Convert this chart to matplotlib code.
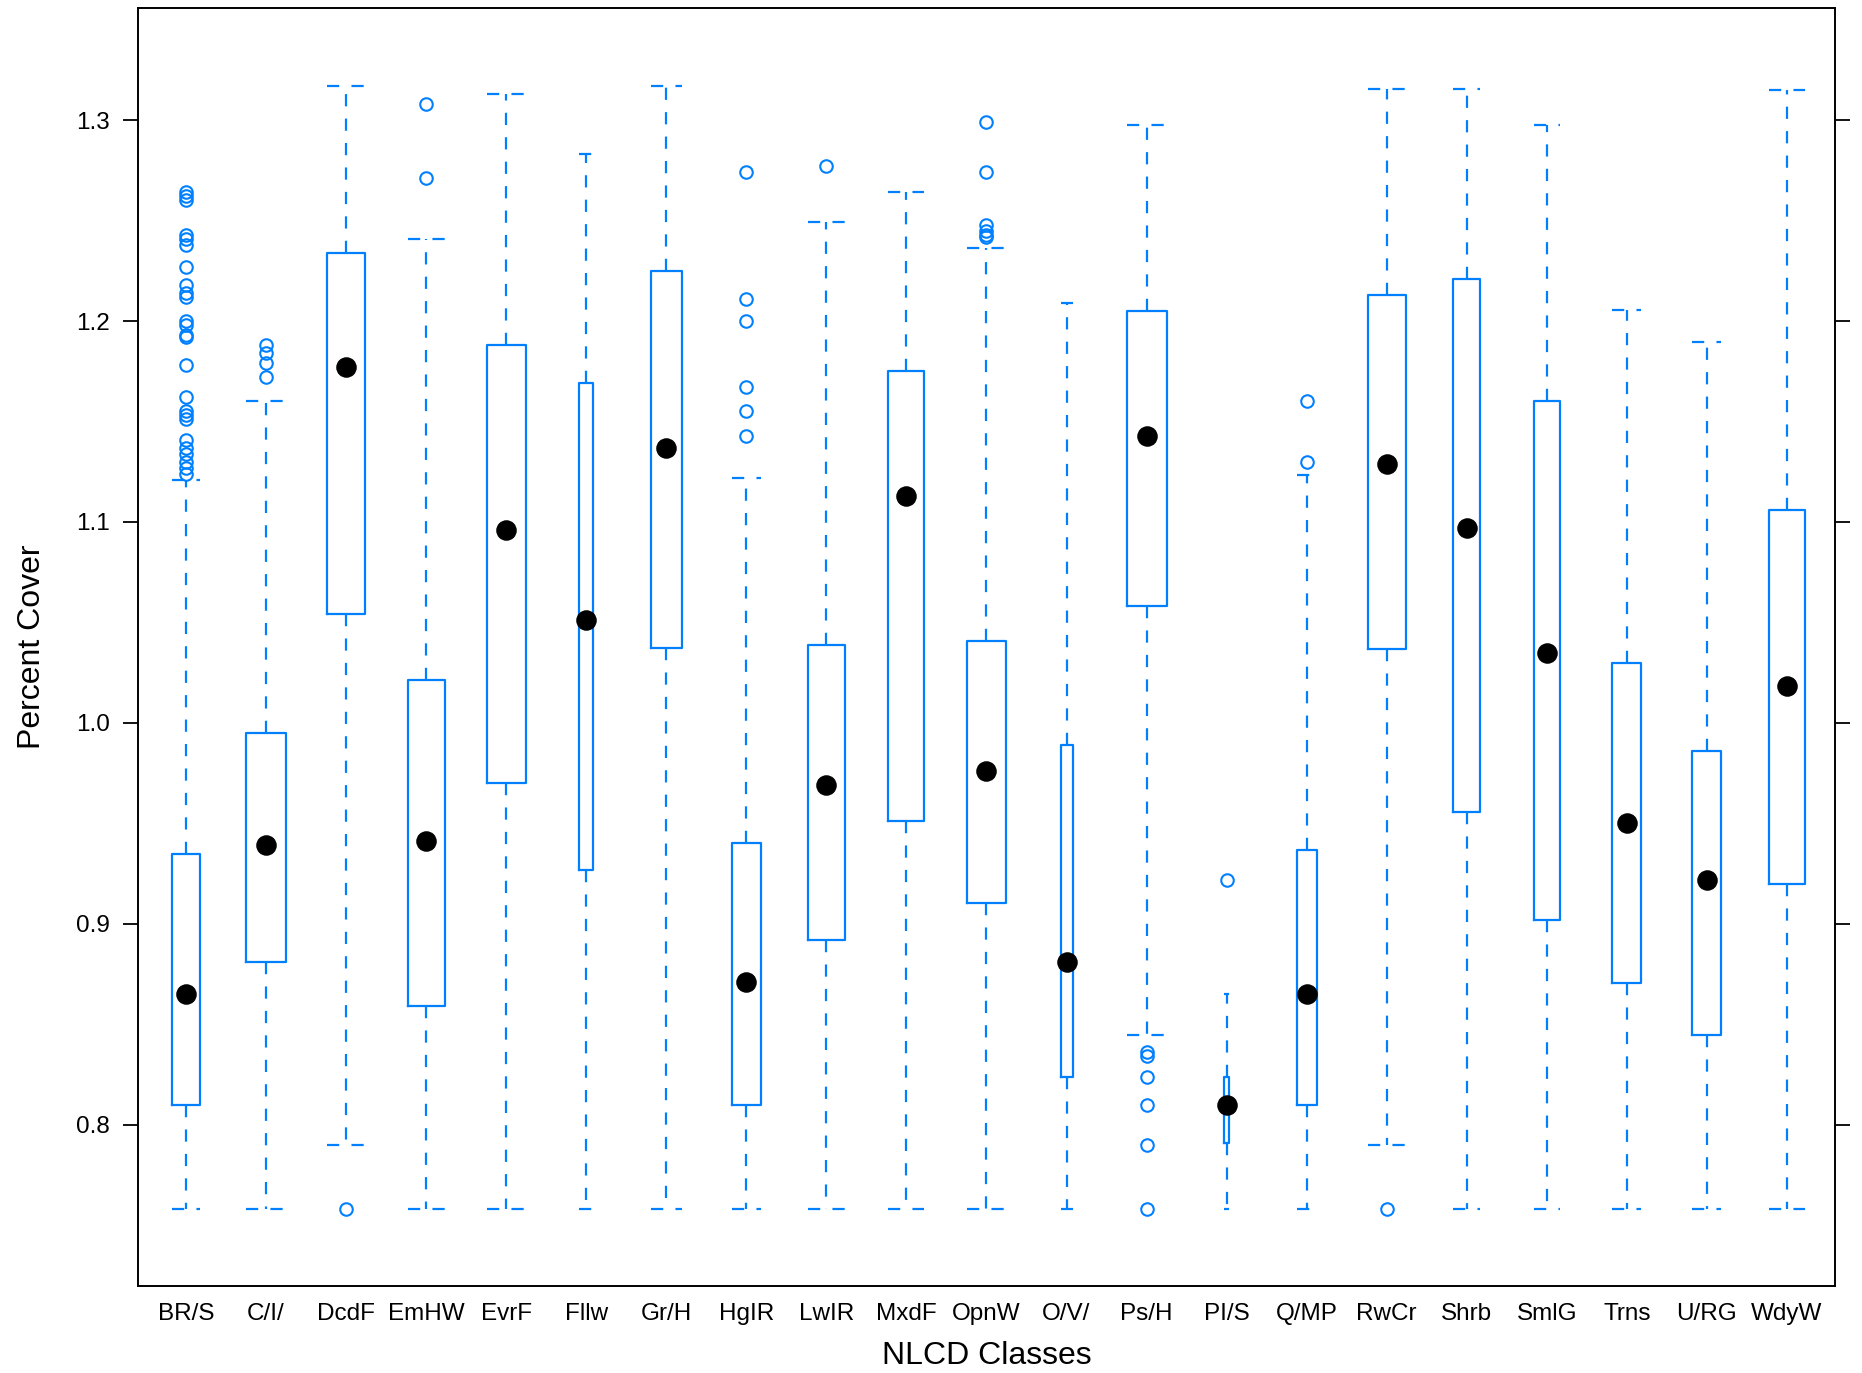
import matplotlib.pyplot as plt
import numpy as np

plt.rcParams['font.family'] = ['Liberation Sans', 'DejaVu Sans']

# NLCD classes and box statistics
classes = ['BR/S', 'C/I/', 'DcdF', 'EmHW', 'EvrF', 'Fllw', 'Gr/H', 'HgIR', 'LwIR',
           'MxdF', 'OpnW', 'O/V/', 'Ps/H', 'PI/S', 'Q/MP', 'RwCr', 'Shrb', 'SmlG',
           'Trns', 'U/RG', 'WdyW']
whis_lo = [0.758, 0.758, 0.790, 0.758, 0.758, 0.758, 0.758, 0.758, 0.758, 0.758, 0.758,
           0.758, 0.8445, 0.758, 0.758, 0.790, 0.758, 0.758, 0.758, 0.758, 0.758]
q1 = [0.810, 0.881, 1.054, 0.859, 0.970, 0.927, 1.0375, 0.810, 0.892, 0.951, 0.9105,
      0.824, 1.058, 0.791, 0.810, 1.037, 0.9556, 0.902, 0.8707, 0.8445, 0.920]
med = [0.865, 0.939, 1.177, 0.941, 1.096, 1.051, 1.137, 0.871, 0.969, 1.113, 0.976,
       0.881, 1.143, 0.810, 0.865, 1.129, 1.097, 1.0346, 0.950, 0.922, 1.0185]
q3 = [0.935, 0.995, 1.234, 1.0215, 1.188, 1.169, 1.225, 0.940, 1.039, 1.175, 1.041,
      0.989, 1.205, 0.824, 0.937, 1.213, 1.221, 1.160, 1.030, 0.986, 1.106]
whis_hi = [1.121, 1.160, 1.317, 1.241, 1.313, 1.283, 1.317, 1.122, 1.2495, 1.264, 1.2365,
           1.209, 1.2976, 0.865, 1.1236, 1.3154, 1.3154, 1.2976, 1.2056, 1.1895, 1.3148]
outliers = [
    [1.264, 1.262, 1.260, 1.243, 1.241, 1.238, 1.227, 1.218, 1.214, 1.212, 1.200, 1.198,
     1.193, 1.192, 1.178, 1.162, 1.155, 1.153, 1.151, 1.141, 1.137, 1.134, 1.130, 1.127,
     1.124],
    [1.188, 1.184, 1.179, 1.172],
    [0.758],
    [1.308, 1.271],
    [], [], [],
    [1.274, 1.211, 1.200, 1.167, 1.155, 1.143],
    [1.277],
    [],
    [1.299, 1.274, 1.248, 1.245, 1.243, 1.242],
    [],
    [0.836, 0.834, 0.824, 0.810, 0.790, 0.758],
    [0.922],
    [1.160, 1.130],
    [0.758],
    [], [], [], [], [],
]
# approximate group sizes (box width ~ sqrt(n), varwidth)
n_obs = [460, 960, 920, 850, 960, 130, 610, 550, 850, 810, 960, 90, 1000, 20, 250,
         920, 460, 440, 520, 520, 850]

blue = '#0080ff'
pos = np.arange(1, len(classes) + 1)
widths = 0.5 * np.sqrt(np.array(n_obs) / max(n_obs))

stats = []
for i, c in enumerate(classes):
    stats.append(dict(label=c, whislo=whis_lo[i], q1=q1[i], med=med[i], q3=q3[i],
                      whishi=whis_hi[i], fliers=outliers[i]))

fig = plt.figure(figsize=(18.62, 13.73), dpi=100)
ax = fig.add_axes([0.0741, 0.0634, 0.9114, 0.9308])

dash = (0, (5.5, 5.5))
ax.bxp(stats, positions=pos, widths=widths, capwidths=widths,
       boxprops=dict(color=blue, linewidth=1.6),
       whiskerprops=dict(color=blue, linewidth=1.6, linestyle=dash),
       capprops=dict(color=blue, linewidth=1.6, linestyle=dash),
       medianprops=dict(linestyle='none'),
       flierprops=dict(marker='o', markersize=9, markerfacecolor='none',
                       markeredgecolor=blue, markeredgewidth=1.5))
ax.scatter(pos, med, s=190, color='black', zorder=5)

ax.set_xlim(0.4, len(classes) + 0.6)
ax.set_ylim(0.7198, 1.3558)
ax.set_xticks(pos)
ax.set_xticklabels(classes)
ax.set_yticks([0.8, 0.9, 1.0, 1.1, 1.2, 1.3])
ax.set_yticklabels(['0.8', '0.9', '1.0', '1.1', '1.2', '1.3'])
ax.tick_params(axis='x', length=0, pad=12, labelsize=17.5)
ax.tick_params(axis='y', direction='out', length=11, width=1.3, pad=9, labelsize=17.5,
               right=True)
for s in ax.spines.values():
    s.set_linewidth(1.4)

ax.set_xlabel('NLCD Classes', fontsize=23, labelpad=12)
ax.set_ylabel('Percent Cover', fontsize=23, labelpad=21)

fig.savefig('out.png', dpi=100)
